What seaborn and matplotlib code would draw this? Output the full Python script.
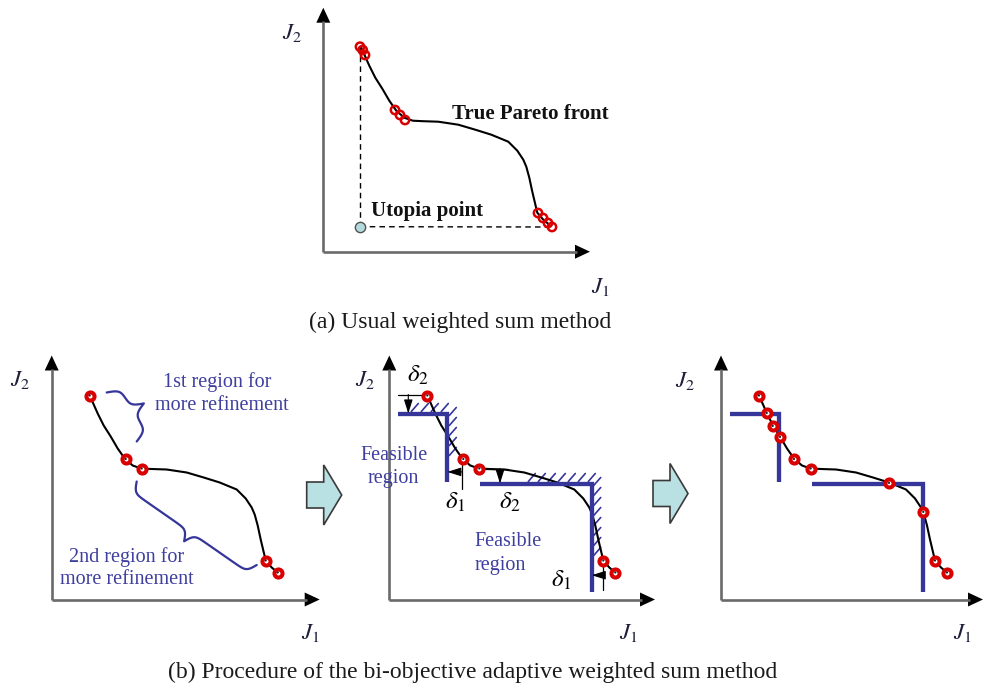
import numpy as np
import pandas as pd
import matplotlib
matplotlib.use("Agg")
import matplotlib.pyplot as plt
from matplotlib.patches import Polygon
import seaborn as sns

sns.set_theme(style="white")
plt.rcParams["font.family"] = ["Liberation Serif", "DejaVu Serif"]
plt.rcParams["mathtext.fontset"] = "stix"

# ---------------------------------------------------------------- data
# True Pareto front (J1, J2), shared by every panel
front_j1 = [38, 46, 52, 59, 66, 73, 81, 89.5, 100, 115, 135, 152, 168, 185,
            194, 200, 203, 206, 209, 214, 220, 226]
front_j2 = [204, 186, 174, 163, 151, 141, 134, 131, 130.5, 130, 127, 122, 117,
            110, 101, 92, 85, 74, 60, 39, 32, 27]

# (a) solutions found by the usual weighted sum method (clustered)
ws_j1 = [36.7, 39.4, 41.7, 71.7, 76.7, 81.7, 214.7, 219.7, 224.7, 228.7]
ws_j2 = [205, 201.7, 196.7, 141.7, 136.7, 131.7, 38.7, 33.7, 28.7, 24.7]
utopia_j1 = [36.7]
utopia_j2 = [25]

# (b) initial solutions, and the refined set after adaptive weighting
init_j1 = [38, 74, 90, 214, 226]
init_j2 = [204, 140.5, 131, 39, 27]
refined_j1 = [38, 45.7, 51.7, 59, 73, 89.7, 168, 202.3, 214, 226]
refined_j2 = [204, 186.6, 173.6, 162.6, 140.5, 131, 116.6, 87.6, 39, 27]

# inequality constraints (offset by delta1, delta2) bounding each region
con1_j1 = [9, 58, 58]
con1_j2 = [186, 186, 117.6]
con2_j1 = [91, 202.4, 202.4]
con2_j2 = [116, 116, 7.6]

# ---------------------------------------------------------------- style
FIG_W, FIG_H = 985, 689
AX_GRAY = "#6a6a6a"
RED = "#d90000"
NAVY = "#35359a"
TXT_BLUE = "#3f3f9f"
J_COLOR = "#1e1e3a"

fig = plt.figure(figsize=(FIG_W / 100, FIG_H / 100), dpi=100)
fig.patch.set_facecolor("white")


def panel(ox, oy, x0=-60, x1=300, y0=-50, y1=262):
    """Axes whose data units are pixels, with (0, 0) at the panel origin."""
    ax = fig.add_axes([(ox + x0) / FIG_W, 1 - (oy - y0) / FIG_H,
                       (x1 - x0) / FIG_W, (y1 - y0) / FIG_H])
    ax.set_xlim(x0, x1)
    ax.set_ylim(y0, y1)
    ax.axis("off")
    return ax


def draw_axes(ax, W, H, j2_pos, j1_pos):
    ax.plot([0, W - 13], [0, 0], color=AX_GRAY, lw=1.9, solid_capstyle="butt")
    ax.plot([0, 0], [0, H - 13], color=AX_GRAY, lw=1.9, solid_capstyle="butt")
    ax.add_patch(Polygon([(W, 0), (W - 15, 7), (W - 15, -7)], closed=True,
                         fc="black", ec="none"))
    ax.add_patch(Polygon([(0, H), (-7, H - 15), (7, H - 15)], closed=True,
                         fc="black", ec="none"))
    ax.text(*j2_pos, r"$J_{\mathit{2}}$", fontsize=16.5, color=J_COLOR,
            ha="center", va="center")
    ax.text(*j1_pos, r"$J_{\mathit{1}}$", fontsize=16.5, color=J_COLOR,
            ha="center", va="center")


def draw_front(ax):
    df = pd.DataFrame({"J1": front_j1, "J2": front_j2})
    sns.lineplot(data=df, x="J1", y="J2", sort=False, estimator=None,
                 color="black", lw=1.5, ax=ax, legend=False)


def draw_solutions(ax, j1, j2):
    df = pd.DataFrame({"J1": j1, "J2": j2})
    sns.scatterplot(data=df, x="J1", y="J2", s=34, marker="o", color="white",
                    edgecolor=RED, linewidth=2.9, ax=ax, legend=False, zorder=5)
    sns.scatterplot(data=df, x="J1", y="J2", s=2.5, marker="o", color="#202020",
                    edgecolor="none", linewidth=0, ax=ax, legend=False, zorder=6)


def draw_constraints(ax):
    for cx, cy in ((con1_j1, con1_j2), (con2_j1, con2_j2)):
        ax.plot(cx, cy, color=NAVY, lw=3.1, solid_joinstyle="miter",
                solid_capstyle="butt", zorder=3)


def hatch(ax, x_from, x_to, y_line, y_from, y_to, x_line):
    # short "/" strokes on the infeasible side of a constraint
    for x in np.arange(x_from, x_to + 0.1, 10):
        ax.plot([x, x + 7], [y_line + 2, y_line + 10], color=NAVY, lw=1.2)
    for y in np.arange(y_from, y_to - 0.1, -10):
        ax.plot([x_line + 2, x_line + 9], [y, y + 8], color=NAVY, lw=1.2)


def brace(ax, p0, p1, depth, beta=0.4):
    p0, p1 = np.asarray(p0, float), np.asarray(p1, float)
    d = p1 - p0
    L = np.hypot(*d)
    u = d / L
    n = np.array([-u[1], u[0]])
    xs = np.linspace(0, L / 2, 60)
    half = (1 / (1 + np.exp(-beta * (xs - xs[0])))
            + 1 / (1 + np.exp(-beta * (xs - xs[-1]))))
    prof = np.concatenate([half, half[-2::-1]])
    prof = (prof - prof.min()) / (prof.max() - prof.min())
    s = np.linspace(0, L, prof.size)
    pts = p0[None, :] + s[:, None] * u[None, :] + (depth * prof)[:, None] * n[None, :]
    ax.plot(pts[:, 0], pts[:, 1], color=NAVY, lw=1.6)


def block_arrow(ax, x, y):
    shape = [(0, 13), (17, 13), (17, 30), (35, 0), (17, -30), (17, -13), (0, -13)]
    ax.add_patch(Polygon([(x + a, y + b) for a, b in shape], closed=True,
                         fc="#b9e0e3", ec="#3a3a3a", lw=1.2, zorder=2))


def small_arrow(ax, start, end):
    ax.annotate("", xy=end, xytext=start,
                arrowprops=dict(arrowstyle="-|>,head_length=0.7,head_width=0.22",
                                color="black", lw=0.8, shrinkA=0, shrinkB=0))


# ---------------------------------------------------------------- (a)
ax_a = panel(323.3, 251.7)
draw_axes(ax_a, 266.7, 244, (-31, 219), (277, -35))
ax_a.plot([utopia_j1[0], ws_j1[0]], [utopia_j2[0], ws_j2[0]], color="black",
          lw=1.0, ls=(0, (4, 3)))
ax_a.plot([utopia_j1[0], ws_j1[-1]], [utopia_j2[0], ws_j2[-1]], color="black",
          lw=1.0, ls=(0, (4, 3)))
draw_front(ax_a)
sns.scatterplot(x=ws_j1, y=ws_j2, s=36, marker="o", color="none",
                edgecolor=RED, linewidth=1.8, ax=ax_a, legend=False, zorder=5)
sns.scatterplot(x=utopia_j1, y=utopia_j2, s=55, marker="o", color="#b3dadd",
                edgecolor="#505050", linewidth=1.0, ax=ax_a, legend=False, zorder=5)
ax_a.text(128.7, 138, "True Pareto front", fontsize=15, fontweight="bold",
          color="#111111", ha="left", va="center")
ax_a.text(47.7, 41, "Utopia point", fontsize=15, fontweight="bold",
          color="#111111", ha="left", va="center")

# ---------------------------------------------------------------- (b) step 1
ax_b1 = panel(51.7, 599.5)
draw_axes(ax_b1, 268, 244, (-32, 219.5), (258.5, -33.5))
draw_front(ax_b1)
draw_solutions(ax_b1, init_j1, init_j2)
brace(ax_b1, (55, 207), (85, 158), 26)
brace(ax_b1, (85, 118), (205, 34.5), -22)
ax_b1.text(165, 217.8, "1st region for", fontsize=14.5, color=TXT_BLUE,
           ha="center", va="center")
ax_b1.text(170, 194.5, "more refinement", fontsize=14.5, color=TXT_BLUE,
           ha="center", va="center")
ax_b1.text(75, 42.8, "2nd region for", fontsize=14.5, color=TXT_BLUE,
           ha="center", va="center")
ax_b1.text(75, 19.5, "more refinement", fontsize=14.5, color=TXT_BLUE,
           ha="center", va="center")
block_arrow(ax_b1, 255, 104.5)

# ---------------------------------------------------------------- (b) step 2
ax_b2 = panel(389.3, 599.5)
draw_axes(ax_b2, 265.7, 244, (-24.5, 219.5), (239, -33.5))
hatch(ax_b2, 22, 56, 186, 184, 140, 58)
hatch(ax_b2, 139, 200, 116, 114, 37, 202.4)
draw_constraints(ax_b2)
draw_front(ax_b2)
draw_solutions(ax_b2, init_j1, init_j2)
# delta offsets
ax_b2.plot([9, 38], [205, 205], color="black", lw=0.9)
small_arrow(ax_b2, (19, 205), (19, 186))
ax_b2.plot([73, 73], [140.5, 111], color="black", lw=0.9)
small_arrow(ax_b2, (73, 127.6), (58, 127.6))
ax_b2.plot([90, 119], [131, 131], color="black", lw=0.9)
small_arrow(ax_b2, (110.7, 131), (110.7, 116))
ax_b2.plot([214, 214], [39, 9.3], color="black", lw=0.9)
small_arrow(ax_b2, (214, 24.3), (202.4, 24.3))
ax_b2.text(29, 224.3, r"$\delta_2$", fontsize=18, color="black",
           ha="center", va="center")
ax_b2.text(65.7, 97.6, r"$\delta_1$", fontsize=18, color="black",
           ha="center", va="center")
ax_b2.text(120.7, 97.6, r"$\delta_2$", fontsize=18, color="black",
           ha="center", va="center")
ax_b2.text(172.4, 19.3, r"$\delta_1$", fontsize=18, color="black",
           ha="center", va="center")
ax_b2.text(5, 144.3, "Feasible", fontsize=14.5, color=TXT_BLUE,
           ha="center", va="center")
ax_b2.text(4, 121, "region", fontsize=14.5, color=TXT_BLUE,
           ha="center", va="center")
ax_b2.text(119, 57.6, "Feasible", fontsize=14.5, color=TXT_BLUE,
           ha="center", va="center")
ax_b2.text(110.7, 34.3, "region", fontsize=14.5, color=TXT_BLUE,
           ha="center", va="center")
block_arrow(ax_b2, 263.7, 106)

# ---------------------------------------------------------------- (b) step 3
ax_b3 = panel(721, 599.5)
draw_axes(ax_b3, 262, 244, (-36, 218), (241, -33.5))
draw_constraints(ax_b3)
draw_front(ax_b3)
draw_solutions(ax_b3, refined_j1, refined_j2)

# ---------------------------------------------------------------- captions
fig.text(460.5 / FIG_W, 1 - 322 / FIG_H, "(a) Usual weighted sum method",
         fontsize=17, color="#1a1a1a", ha="center", va="center")
fig.text(472.5 / FIG_W, 1 - 672 / FIG_H,
         "(b) Procedure of the bi-objective adaptive weighted sum method",
         fontsize=17, color="#1a1a1a", ha="center", va="center")

fig.savefig("out.png", dpi=100, facecolor="white")
